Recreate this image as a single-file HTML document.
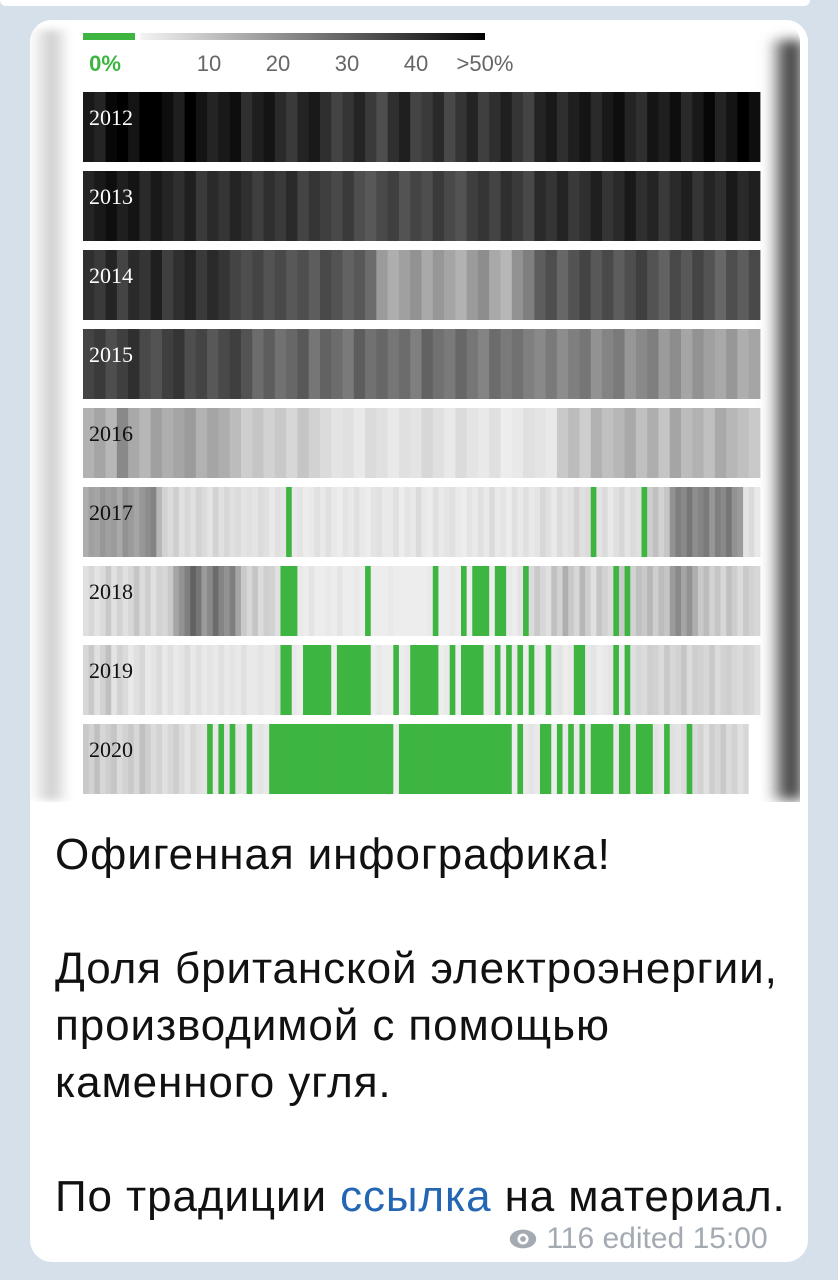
<!DOCTYPE html>
<html><head><meta charset="utf-8">
<style>
body{margin:0;width:838px;height:1280px;background:#d6e0ea;position:relative;overflow:hidden;font-family:"Liberation Sans","Noto Sans CJK SC",sans-serif}
.abs{position:absolute}
#bubble{left:30px;top:20px;width:778px;height:1242px;background:#fff;border-radius:22px}
#imgwrap{left:30px;top:20px;width:770px;height:782px;background:#fff;border-radius:22px 22px 0 0;overflow:hidden}
.msg{left:55px;top:826px;font-size:44px;line-height:57px;color:#111;letter-spacing:0.9px;white-space:nowrap}
.msg a{color:#2466b4;text-decoration:none}
#foot{left:508px;top:1222px;font-size:30px;color:#a3aab2;white-space:nowrap}
</style></head>
<body>
<div class="abs" style="left:0;top:0;width:810px;height:6px;background:#fff;border-radius:0 0 14px 14px"></div>
<div id="bubble" class="abs"></div>
<div id="imgwrap" class="abs">
  <div class="abs" style="left:0;top:10px;width:40px;height:770px;background:linear-gradient(to right,#fff,#cfcfcf 55%,#fff);filter:blur(4px)"></div>
  <div class="abs" style="left:738px;top:20px;width:36px;height:760px;background:linear-gradient(to right,#fff,#333 60%,#888);filter:blur(6px)"></div>
  <svg id="chart" class="abs" style="left:0;top:0" width="770" height="782"></svg>
</div>
<div class="abs msg">Офигенная инфографика!<br><br>Доля британской электроэнергии,<br>производимой с помощью<br>каменного угля.<br><br>По традиции <a href="#">ссылка</a> на материал.</div>
<div id="foot" class="abs"><svg width="30" height="22" viewBox="0 0 26 20" style="vertical-align:-2px"><ellipse cx="13" cy="10" rx="12" ry="8.5" fill="#a3aab2"/><circle cx="13" cy="10" r="5" fill="#fff"/><circle cx="13" cy="10" r="2.6" fill="#a3aab2"/></svg> 116 edited 15:00</div>
<script>
const years=["2012","2013","2014","2015","2016","2017","2018","2019","2020"];
const legendTicks=["0%","10","20","30","40",">50%"];
const legendValues=[0,10,20,30,40,50];
const v2012=[46,44,49,50,47,50,50,48,45,50,47,44,46,48,42,45,47,43,40,44,46,42,38,41,44,40,36,42,45,38,40,43,37,41,44,39,42,45,41,38,44,46,42,45,47,43,46,48,44,42,47,45,48,43,46,49,44,47,50,48];
const v2013=[44,46,48,45,47,43,46,44,42,45,40,43,41,44,42,39,42,40,43,38,41,39,37,40,36,34,37,39,35,38,36,40,37,35,39,41,38,42,40,37,43,41,44,40,42,45,41,43,46,42,44,40,43,45,41,44,42,46,43,45];
const v2014=[42,40,44,38,43,41,45,39,42,44,40,43,41,38,36,38,35,37,34,36,33,37,35,32,34,30,20,16,19,22,17,21,18,15,20,23,17,14,22,26,33,36,31,35,38,34,37,33,36,39,35,32,37,34,38,35,31,36,33,37];
const v2015=[38,40,36,39,42,37,35,39,41,36,38,34,37,39,35,30,33,29,31,34,28,32,30,27,33,29,31,28,30,26,32,29,27,31,28,25,30,27,29,26,24,27,23,26,28,22,25,27,21,24,26,20,23,18,22,19,17,21,16,18];
const v2016=[15,18,14,24,17,14,19,16,18,20,15,18,16,13,9,11,8,10,7,11,8,6,4,5,3,6,5,3,5,4,7,5,3,6,4,3,5,2,3,5,4,3,10,13,9,15,12,14,17,12,16,11,18,13,15,12,17,14,12,10];
const v2017=[16,19,18,21,19,20,17,22,20,18,21,23,25,14,8,6,9,5,7,5,8,6,4,8,5,7,5,6,4,5,4,6,5,3,5,4,0,3,4,2,3,5,3,5,3,2,4,3,5,3,2,4,5,3,3,5,2,4,3,6,3,2,5,3,4,5,3,2,4,3,5,3,6,3,4,2,5,3,5,3,4,7,5,3,6,4,5,8,5,6,0,4,6,3,5,7,4,6,5,0,9,12,8,11,22,26,24,28,23,25,27,21,26,24,28,22,20,4,6,3];
const v2018=[5,7,4,6,10,5,8,5,7,11,6,9,5,8,7,10,18,22,26,32,28,20,24,30,25,22,26,18,10,7,11,6,9,8,5,0,0,0,3,2,4,2,2,3,2,4,2,2,3,2,0,2,2,2,3,2,2,2,2,2,2,3,0,2,2,3,2,0,2,0,0,0,2,0,0,3,2,4,0,6,10,7,5,12,8,16,10,7,14,9,5,11,8,6,0,10,0,8,12,10,14,9,13,11,20,24,18,22,16,10,13,8,11,7,12,9,6,10,8,7];
const v2019=[7,10,5,8,12,4,8,6,3,5,7,3,4,6,3,5,3,4,6,3,5,3,4,3,5,3,4,3,5,3,3,4,3,3,5,0,0,3,2,0,0,0,0,0,2,0,0,0,0,0,0,2,3,2,2,0,2,3,0,0,0,0,0,2,3,0,2,0,0,0,0,2,3,0,2,0,3,0,2,0,3,2,0,3,4,2,3,0,0,3,4,2,3,4,0,3,0,5,7,6,9,8,6,10,7,8,11,6,9,8,7,10,6,8,9,7,6,8,7,5];
const v2020=[10,8,12,7,9,11,6,8,10,7,12,9,6,8,5,7,9,6,4,7,5,4,0,3,0,4,0,4,3,0,3,4,3,0,0,0,0,0,0,0,0,0,0,0,0,0,0,0,0,0,0,0,0,0,0,2,0,0,0,0,0,0,0,0,0,0,0,0,0,0,0,0,0,0,0,0,2,0,3,4,3,0,0,2,0,3,0,3,0,3,0,0,0,0,3,0,0,3,0,0,0,4,3,0,5,4,6,0,6,8,5,9,7,10,6,8,5,7,-1,-1];
const series=[v2012,v2013,v2014,v2015,v2016,v2017,v2018,v2019,v2020];

const NS="http://www.w3.org/2000/svg";
const svg=document.getElementById('chart');
const X0=53, X1=730, ROW0=72, ROWH=70, ROWSTEP=79;
function xScale(i,n){return X0+(X1-X0)*i/n;}
function yRow(r){return ROW0+r*ROWSTEP;}
function color(v){
  if(v<0) return '#ffffff';
  if(v===0) return '#3db540';
  const t=Math.min(v,50)/50;
  const g=Math.round(246*Math.pow(1-t,0.9));
  return 'rgb('+g+','+g+','+g+')';
}
function mk(tag,attrs){const e=document.createElementNS(NS,tag);for(const k in attrs)e.setAttribute(k,attrs[k]);svg.appendChild(e);return e;}

const LG0=110, LG1=455;
function legX(v){return LG0+(LG1-LG0)*v/50;}
let lg=mk('rect',{x:53,y:13,width:52,height:7,fill:'#3db540'});


const defs=document.createElementNS(NS,'defs');
defs.innerHTML='<linearGradient id="lgr" x1="0" x2="1"><stop offset="0" stop-color="#f4f4f4"/><stop offset="1" stop-color="#000"/></linearGradient>';
svg.appendChild(defs);
let gb=mk('rect',{x:LG0,y:13,width:LG1-LG0,height:7,fill:'url(#lgr)'});


legendTicks.forEach((t,i)=>{
  const cx=i===0?75:legX(legendValues[i]);
  const el=mk('text',{x:cx,y:51,'text-anchor':'middle','font-size':'22','font-family':'Liberation Sans, sans-serif',fill:i===0?'#3db540':'#666','font-weight':i===0?'bold':'normal'});
  el.textContent=t;
  
  
});

series.forEach((vals,r)=>{
  const n=vals.length, y=yRow(r);
  const g=document.createElementNS(NS,'g');svg.appendChild(g);
  
  
  vals.forEach((v,i)=>{
    const x=xScale(i,n), w=xScale(i+1,n)-x;
    const c=document.createElementNS(NS,'rect');
    c.setAttribute('x',x.toFixed(2));c.setAttribute('y',y);
    c.setAttribute('width',(w+0.4).toFixed(2));c.setAttribute('height',ROWH);
    c.setAttribute('fill',color(v));
    
    
    g.appendChild(c);
  });
  const k=Math.max(1,Math.round(n/8));
  const avg=vals.slice(0,k).reduce((a,b)=>a+Math.max(b,0),0)/k;
  const lbl=mk('text',{x:X0+6,y:y+33,'font-size':'22','font-family':'Liberation Serif, serif',fill:avg>28?'#fff':'#111'});
  lbl.textContent=years[r];
  
  
});
</script>
</body></html>
